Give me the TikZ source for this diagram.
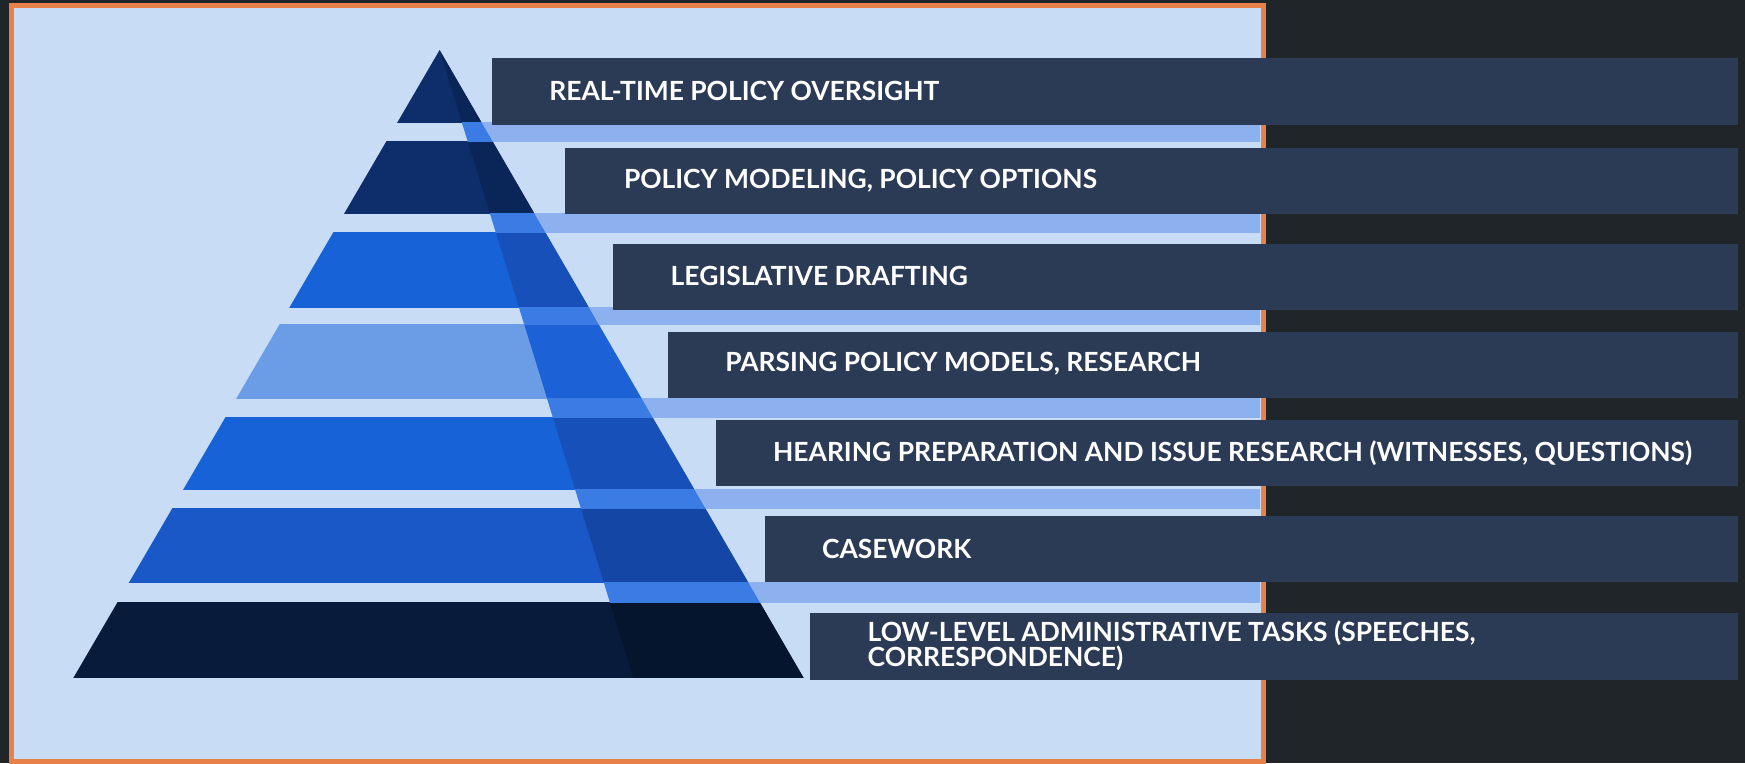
\documentclass[tikz,border=0pt]{standalone}
\usepackage{fontspec}
\setmainfont{Lato}
\definecolor{bgdark}{HTML}{1F2528}
\definecolor{panel}{HTML}{C9DCF5}
\definecolor{frame}{HTML}{E8804A}
\definecolor{barcol}{HTML}{2B3A55}
\definecolor{layA}{HTML}{0D2D6B}
\definecolor{bandA}{HTML}{0A2658}
\definecolor{layB}{HTML}{1862D8}
\definecolor{bandB}{HTML}{1650B8}
\definecolor{layC}{HTML}{6B9CE6}
\definecolor{bandC}{HTML}{1C62D6}
\definecolor{layD}{HTML}{1A58C7}
\definecolor{bandD}{HTML}{1446A5}
\definecolor{layE}{HTML}{081B3A}
\definecolor{bandE}{HTML}{06152E}
\definecolor{gapband}{HTML}{3A7BE4}
\definecolor{stripe}{HTML}{8CB1EE}
\begin{document}
\begin{tikzpicture}[x=0.1mm,y=-0.1mm,
  bartext/.style={text=white,font=\bfseries\fontsize{6.75}{6.5}\selectfont,anchor=west,inner sep=0pt,align=left}]
\fill[bgdark] (0,0) rectangle (1568,686);
\fill[panel] (10,5) rectangle (1135,684);
% pyramid layers
\foreach \ytop/\ybot/\lay/\band in {45/110/layA/bandA,127/192/layA/bandA,209/276/layB/bandB,292/358/layC/bandC,375/440/layB/bandB,457/523/layD/bandD,541/609/layE/bandE}{
  \begin{scope}
    \clip (0,\ytop) rectangle (1568,\ybot);
    \fill[\lay] (395,45) -- (66,609) -- (722,609) -- cycle;
    \fill[\band] (395,45) -- (569,609) -- (722,609) -- cycle;
  \end{scope}
}
% stripes between the layers
\foreach \ytop/\ybot in {110/127,192/209,276/292,358/375,440/457,523/541}{
  \begin{scope}
    \clip (0,\ytop) rectangle (1132,\ybot);
    \fill[stripe] (395,45) -- (569,609) -- (1132,609) -- (1132,45) -- cycle;
    \fill[gapband] (395,45) -- (569,609) -- (722,609) -- cycle;
  \end{scope}
}
\draw[frame,line width=0.45mm] (10,5) rectangle (1135,684);
% bars
\foreach \x/\ytop/\ybot in {442/52/112,508/133/192,551/219/279,600/298/358,643/377/437,687/464/523,728/551/611}
  \fill[barcol] (\x,\ytop) rectangle (1562,\ybot);
\node[bartext] (t1) at (493,82) {REAL-TIME POLICY OVERSIGHT};
\node[bartext] (t2) at (560,162) {POLICY MODELING, POLICY OPTIONS};
\node[bartext] (t3) at (602,248) {LEGISLATIVE DRAFTING};
\node[bartext] (t4) at (651,327) {PARSING POLICY MODELS, RESEARCH};
\node[bartext] (t5) at (694,407) {HEARING PREPARATION AND ISSUE RESEARCH (WITNESSES, QUESTIONS)};
\node[bartext] (t6) at (738,493) {CASEWORK};
\node[bartext] (t7) at (779,580) {LOW-LEVEL ADMINISTRATIVE TASKS (SPEECHES,\\CORRESPONDENCE)};
\end{tikzpicture}
\end{document}
